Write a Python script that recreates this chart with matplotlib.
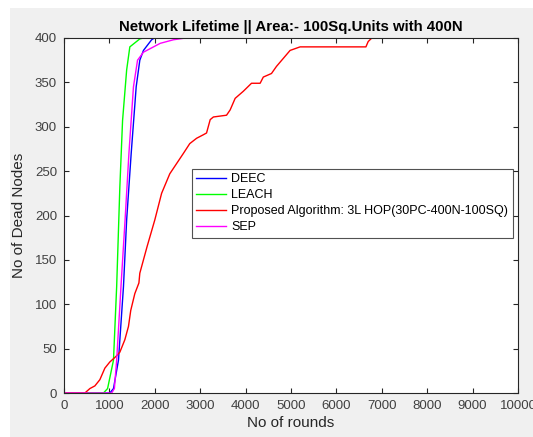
import matplotlib
matplotlib.use("Agg")
import matplotlib.pyplot as plt
from matplotlib.patches import Rectangle

plt.rcParams['font.family'] = ['Liberation Sans', 'DejaVu Sans']

# dead nodes vs round for each protocol
deec_rounds = [0, 1010, 1090, 1200, 1310, 1380, 1480, 1590, 1670, 1750, 1930, 1990, 10000]
deec_dead = [0, 0, 5, 37, 120, 195, 270, 345, 375, 386, 398, 400, 400]

leach_rounds = [0, 870, 960, 1090, 1160, 1230, 1290, 1380, 1450, 1670, 1750, 10000]
leach_dead = [0, 0, 5, 37, 120, 232, 307, 364, 390, 399, 400, 400]

sep_rounds = [0, 1050, 1110, 1160, 1255, 1345, 1430, 1530, 1620, 1750, 2120, 2410, 2680, 10000]
sep_dead = [0, 0, 5, 37, 120, 195, 270, 345, 375, 384, 394, 398, 400, 400]

prop_rounds = [0, 460, 570, 680, 790, 900, 1010, 1120, 1160, 1230, 1340, 1420,
               1470, 1560, 1650, 1670, 1830, 2000, 2150, 2330, 2630, 2770, 2920,
               3070, 3140, 3220, 3290, 3580, 3660, 3770, 3950, 4130, 4320, 4390,
               4570, 4680, 4830, 4980, 5200, 6650, 6700, 6780, 10000]
prop_dead = [0, 0, 5, 8, 15, 28, 35, 40, 42, 46, 60, 75,
             93, 112, 124, 135, 165, 195, 225, 247, 270, 281, 287,
             291, 293, 308, 311, 313, 319, 332, 340, 349, 349, 356,
             360, 368, 377, 386, 390, 390, 396, 400, 400]

fig = plt.figure(figsize=(5.33, 4.37), dpi=100, facecolor='#f0f0f0')
# white strip along top and left edge
fig.patches.append(Rectangle((0, 1 - 8 / 437), 1, 8 / 437, transform=fig.transFigure,
                             facecolor='white', edgecolor='none', zorder=-1))
fig.patches.append(Rectangle((0, 0), 10 / 533, 1, transform=fig.transFigure,
                             facecolor='white', edgecolor='none', zorder=-1))

ax = fig.add_axes([64 / 533, 44 / 437, 454 / 533, 355 / 437])
ax.set_facecolor('white')

ax.plot(deec_rounds, deec_dead, color=(0, 0, 1), lw=1.0, label='DEEC')
ax.plot(leach_rounds, leach_dead, color=(0, 1, 0), lw=1.0, label='LEACH')
ax.plot(prop_rounds, prop_dead, color=(1, 0, 0), lw=1.0,
        label='Proposed Algorithm: 3L HOP(30PC-400N-100SQ)')
ax.plot(sep_rounds, sep_dead, color=(1, 0, 1), lw=1.0, label='SEP')

ax.set_xlim(0, 10000)
ax.set_ylim(0, 400)
ax.set_xticks(range(0, 10001, 1000))
ax.set_yticks(range(0, 401, 50))

for s in ax.spines.values():
    s.set_color('#262626')
    s.set_linewidth(0.8)
ax.tick_params(direction='in', length=3.5, width=0.8, top=True, right=True,
               colors='#262626', labelcolor='#404040', labelsize=9.5, pad=5)

ax.set_xlabel('No of rounds', fontsize=11, color='#262626', labelpad=3)
ax.set_ylabel('No of Dead Nodes', fontsize=11, color='#262626', labelpad=6)
ax.set_title('Network Lifetime || Area:- 100Sq.Units with 400N', fontsize=10.8,
             fontweight='bold', color='black', pad=5)

leg = ax.legend(loc='upper left', bbox_to_anchor=(128 / 454, (393 - 169) / 355),
                fontsize=9, frameon=True, fancybox=False, handlelength=2.4,
                handletextpad=0.4, borderpad=0.35, labelspacing=0.32, borderaxespad=0)
leg.get_frame().set_edgecolor('#262626')
leg.get_frame().set_linewidth(0.8)

fig.savefig('out.png', dpi=100, facecolor=fig.get_facecolor())
